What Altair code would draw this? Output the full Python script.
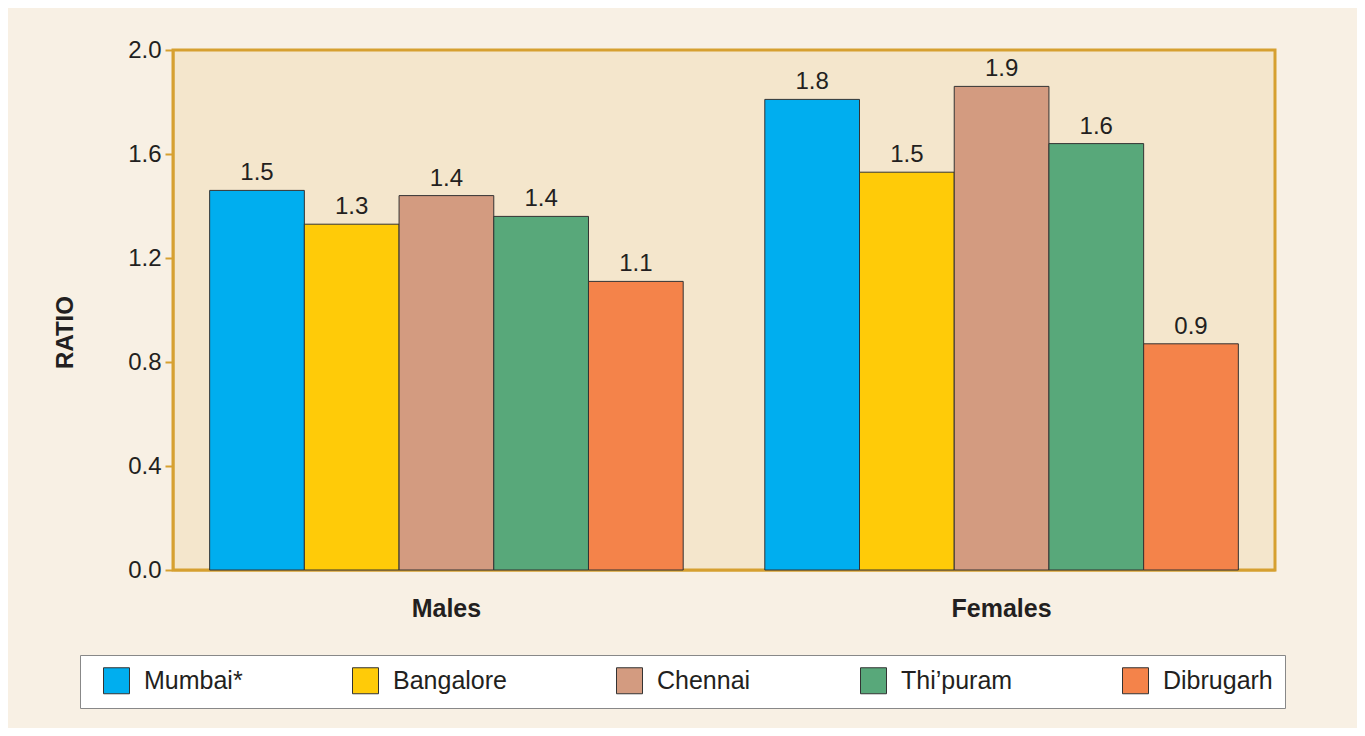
import altair as alt
import pandas as pd

groups = ["Males", "Females"]
cities = ["Mumbai", "Bangalore", "Chennai", "Thi’puram", "Dibrugarh"]
males = [1.46, 1.33, 1.44, 1.36, 1.11]
females = [1.81, 1.53, 1.86, 1.64, 0.87]
males_labels = ["1.5", "1.3", "1.4", "1.4", "1.1"]
females_labels = ["1.8", "1.5", "1.9", "1.6", "0.9"]
colors = ["#00aeef", "#ffcb08", "#d39b80", "#58a87a", "#f4834a"]
y_ticks = [0.0, 0.4, 0.8, 1.2, 1.6, 2.0]

rows = []
for g, vals, labs in [("Males", males, males_labels), ("Females", females, females_labels)]:
    for c, v, l in zip(cities, vals, labs):
        rows.append({"group": g, "city": c, "value": v, "label": l})
df = pd.DataFrame(rows)

GOLD = "#d6a030"
INK = "#231f20"

x = alt.X(
    "group:N", sort=groups, title=None,
    scale=alt.Scale(paddingInner=0.147, paddingOuter=0.066),
    axis=alt.Axis(labelFontWeight="bold", labelFontSize=25, labelAngle=0, ticks=False,
                  domainColor=GOLD, domainWidth=2, labelColor=INK, labelPadding=26),
)
xo = alt.XOffset("city:N", sort=cities, scale=alt.Scale(paddingInner=0, paddingOuter=0))
y = alt.Y(
    "value:Q", scale=alt.Scale(domain=[0, 2], nice=False),
    axis=alt.Axis(values=y_ticks, format=".1f", grid=False, tickColor=GOLD, tickSize=8,
                  tickWidth=2, domainColor=GOLD, domainWidth=2, labelFontSize=24,
                  labelColor=INK, labelPadding=4, title="RATIO", titleFontSize=24,
                  titleFontWeight="bold", titleColor=INK, titleX=-96, titleY=282),
)

bars = alt.Chart(df).mark_bar(stroke="#333333", strokeWidth=1).encode(
    x=x, xOffset=xo, y=y,
    color=alt.Color(
        "city:N", sort=cities,
        scale=alt.Scale(domain=cities, range=colors),
        legend=alt.Legend(
            orient="none", legendX=-93, legendY=605, direction="horizontal", columns=5,
            title=None, symbolType="square", symbolSize=676, symbolStrokeColor="#333333",
            symbolStrokeWidth=1, symbolOpacity=1, symbolOffset=11, labelFontSize=25,
            labelColor=INK, labelOffset=14, columnPadding=98, padding=12,
            fillColor="white", strokeColor="#888888",
            labelExpr="datum.label == 'Mumbai' ? 'Mumbai*' : datum.label",
        ),
    ),
)

texts = alt.Chart(df).mark_text(baseline="alphabetic", dy=-10, fontSize=24, color=INK).encode(
    x=x, xOffset=xo, y=y, text="label:N"
)

chart = (
    alt.layer(bars, texts)
    .properties(
        width=1102, height=520,
        autosize=alt.AutoSizeParams(type="none"),
        padding={"left": 165, "top": 42, "right": 82, "bottom": 158},
    )
    .configure(background="#f8f0e4", font="Liberation Sans")
    .configure_view(fill="#f4e6cc", stroke=GOLD, strokeWidth=3)
)

chart.save("out.html", embed_options={"renderer": "svg", "actions": False})
